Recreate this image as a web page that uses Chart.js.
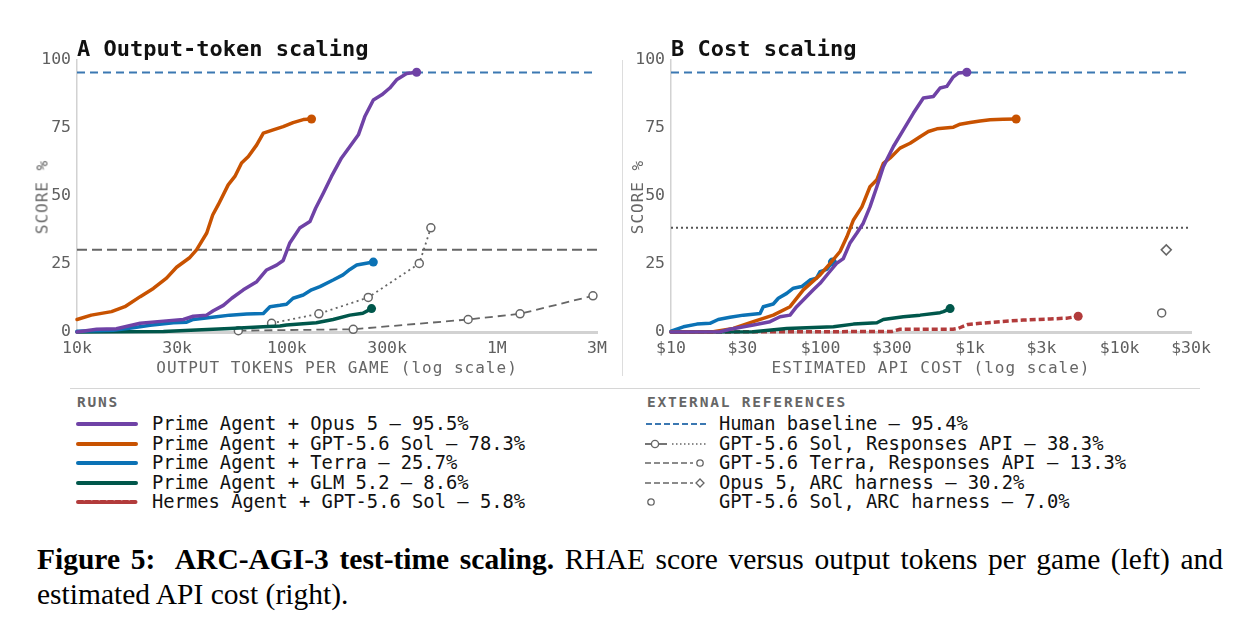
<!DOCTYPE html>
<html>
<head>
<meta charset="utf-8">
<script src="https://cdn.jsdelivr.net/npm/chart.js@4.4.1/dist/chart.umd.min.js"></script>
<style>
  body { margin: 0; background: #fff; width: 1260px; height: 632px; overflow: hidden; position: relative; font-family: "DejaVu Sans Mono", monospace; }
  .abs { position: absolute; white-space: pre; }
  canvas { position: absolute; top: 0; }
  .ptitle { font-weight: bold; font-size: 22px; color: #111; top: 36px; }
  .axt { font-size: 16px; color: #666; letter-spacing: 1px; }
  .hdr { font-size: 14.5px; font-weight: bold; color: #666; letter-spacing: 1.8px; top: 394px; }
  .row { font-size: 18.8px; color: #111; height: 20px; line-height: 20px; }
  .sw { position: absolute; }
  .cap { font-family: "Liberation Serif", "Times New Roman", serif; font-size: 29.5px; line-height: 30px; color: #000;
         left: 37px; width: 1186px; }
</style>
</head>
<body>
<canvas id="tokChart" width="620" height="385" style="left:0"></canvas>
<canvas id="costChart" width="620" height="385" style="left:620px"></canvas>

<div class="abs ptitle" style="left:77px">A Output-token scaling</div>
<div class="abs ptitle" style="left:671px">B Cost scaling</div>
<div class="abs axt" style="left:337px;top:358px;transform:translateX(-50%)">OUTPUT TOKENS PER GAME (log scale)</div>
<div class="abs axt" style="left:931px;top:358px;transform:translateX(-50%)">ESTIMATED API COST (log scale)</div>
<div class="abs axt" style="left:42px;top:197px;transform:translate(-50%,-50%) rotate(-90deg)">SCORE %</div>
<div class="abs axt" style="left:637px;top:197px;transform:translate(-50%,-50%) rotate(-90deg)">SCORE %</div>

<div class="abs" style="left:622px;top:60px;width:1px;height:316px;background:#ddd"></div>
<div class="abs" style="left:70px;top:388px;width:1130px;height:1px;background:#d6d6d6"></div>

<div class="abs hdr" style="left:77px">RUNS</div>
<div class="abs hdr" style="left:647px">EXTERNAL REFERENCES</div>
<div id="legRuns"></div>
<div id="legRefs"></div>

<div class="abs cap" style="top:544px;white-space:normal;text-align:justify;text-align-last:justify"><b>Figure 5:&nbsp; ARC-AGI-3 test-time scaling.</b> RHAE score versus output tokens per game (left) and</div>
<div class="abs cap" style="top:579px">estimated API cost (right).</div>

<script>
// ---- panel A: output tokens per game (thousands) vs score %
const tokTicks = [10, 30, 100, 300, 1000, 3000];
const tokLabels = ["10k", "30k", "100k", "300k", "1M", "3M"];

const opusTok = [10, 12.4, 15.4, 20, 25.8, 32.1, 35.8, 41.4, 44.6, 49.8, 54.6, 62, 71.8, 80, 89.3, 96, 103, 115, 128.7, 137, 149, 163, 182, 199.5, 219, 235, 258, 283, 309, 333, 372, 415];
const opusTokScore = [0, 1, 1.2, 3.2, 4, 4.6, 5.8, 6.2, 7.8, 9.8, 12.4, 15.5, 18.5, 22.8, 24.6, 26.3, 32.6, 38.2, 40.6, 45.5, 51, 57.2, 64, 68.2, 72.5, 79.2, 85.3, 87.2, 89.7, 92.7, 95, 95.5];

const solTok = [10, 11.7, 14.6, 16.9, 20, 23.1, 26.7, 29.8, 34.5, 37.1, 41.5, 44.3, 47.1, 52.5, 56.5, 60.8, 65.5, 71.8, 77.2, 86, 96, 107, 119.6, 131];
const solTokScore = [4.6, 6.2, 7.5, 9.3, 13, 16, 19.8, 23.8, 27.4, 30.2, 36.4, 43, 46.8, 54.1, 57.2, 62.1, 64.5, 68.8, 73.1, 74.3, 75.5, 77, 78.1, 78.3];

const terraTok = [10, 14.9, 18.5, 22.3, 28.8, 33.3, 35.8, 46.2, 53.5, 64.3, 77.2, 83, 92.6, 99.6, 107, 119.6, 131, 143.6, 166, 185, 199.5, 215, 239, 258];
const terraTokScore = [0.3, 0.6, 1.6, 2.5, 3.4, 3.6, 4.6, 5.6, 6.2, 6.6, 6.8, 9.3, 9.8, 10.2, 12.4, 13.6, 15.5, 16.7, 19.1, 21, 23, 24.6, 25.3, 25.7];

const glmTok = [10, 25.8, 37, 53.5, 77, 92.6, 99.6, 138, 166, 199.5, 230, 253];
const glmTokScore = [0, 0.2, 0.7, 1.3, 1.9, 2.2, 2.6, 3.4, 4.6, 6.2, 6.9, 8.6];

const solApiTok = [84.5, 142, 244, 427, 485];
const solApiTokScore = [3.2, 6.7, 12.7, 25.2, 38.3];
const terraApiTok = [58.7, 207, 730, 1290, 2870];
const terraApiTokScore = [0.5, 1.0, 4.6, 6.7, 13.3];

// ---- panel B: estimated API cost ($) vs score %
const costTicks = [10, 30, 100, 300, 1000, 3000, 10000, 30000];
const costLabels = ["$10", "$30", "$100", "$300", "$1k", "$3k", "$10k", "$30k"];

const opusCost = [10, 21.3, 24.8, 35.5, 45.9, 53.6, 62.5, 69.2, 78.7, 89.5, 99.3, 112.8, 128, 142, 157, 175, 193, 214, 238, 263, 307, 358, 418, 487, 569, 630, 698, 773, 835, 951];
const opusCostScore = [0, 0.1, 1, 2.6, 3.8, 5.6, 6.2, 9.3, 12.4, 15.5, 17.9, 21.6, 25.2, 27, 32.6, 36.4, 40, 46, 53.4, 60.8, 68.2, 74.3, 80.5, 86, 86.6, 89.7, 90.3, 93.8, 95.2, 95.5];

const solCost = [10, 19.2, 26.1, 35.5, 48.3, 62.5, 76.7, 99.3, 116, 135, 150, 166, 189, 214, 238, 263, 292, 340, 397, 463, 526, 600, 773, 858, 1000, 1166, 1361, 1660, 2032];
const solCostScore = [0, 0.1, 1.3, 3.8, 6.2, 9.3, 15.5, 21, 25.2, 29.6, 35, 41.2, 46, 53.4, 56, 62, 64, 67.6, 69.4, 71.8, 73.7, 74.7, 75.3, 76.4, 77, 77.6, 78, 78.2, 78.3];

const terraCost = [10, 12.1, 14.9, 18.2, 20.7, 24.8, 30.5, 39.4, 41.4, 48.3, 52.2, 59.4, 65.8, 74.8, 85, 94, 99.3, 110, 120];
const terraCostScore = [0.3, 1.9, 2.9, 3.2, 4.6, 5.4, 6.2, 6.8, 9.3, 10.3, 12.4, 14.2, 16.1, 16.7, 19.1, 19.8, 22.2, 23, 25.7];

const glmCost = [10, 35.5, 59.4, 122, 166, 238, 263, 358, 463, 630, 663, 735];
const glmCostScore = [0, 0.1, 1.3, 1.9, 2.9, 3.4, 4.6, 5.6, 6.2, 7.1, 7.5, 8.6];

const hermesCost = [10, 100, 300, 340, 769, 831, 970, 1166, 1585, 2262, 3430, 4456, 5280];
const hermesCostScore = [0, 0.1, 0.2, 1.0, 1.0, 1.3, 2.8, 3.2, 3.8, 4.4, 4.8, 5.1, 5.8];

const arcOpusCost = [20500];
const arcOpusScore = [30.2];
const arcSolCost = [19100];
const arcSolScore = [7.0];

// reference levels
const humanBaseline = 95.4;
const solApiLevel = 38.3;
const opusArcLevel = 30.2;

const C = {
  opus: "#6f42a6", sol: "#c85200", terra: "#0b72b5", glm: "#00574b",
  hermes: "#b23b3b", human: "#3b78b2", ref: "#666666"
};

const pts = (xs, ys) => xs.map((x, i) => ({ x, y: ys[i] }));

function run(xs, ys, color, dash) {
  return {
    data: pts(xs, ys), showLine: true, borderColor: color, backgroundColor: color,
    borderWidth: 3.5, borderDash: dash || [], borderJoinStyle: "round", borderCapStyle: dash ? "butt" : "round",
    pointRadius: c => (c.dataIndex === xs.length - 1 ? 4.5 : 0), pointBorderWidth: 0, clip: false
  };
}
function hline(x0, x1, v, color, dash) {
  return { data: pts([x0, x1], [v, v]), showLine: true, borderColor: color, borderWidth: 2, borderDash: dash, pointRadius: 0, clip: false };
}
function marked(xs, ys, dash, style) {
  return {
    data: pts(xs, ys), showLine: dash !== null, borderColor: C.ref, borderWidth: 1.8, borderDash: dash || [],
    pointRadius: style === "rectRot" ? 5 : 4, pointStyle: style || "circle",
    pointBackgroundColor: "#fff", pointBorderColor: C.ref, pointBorderWidth: 1.5, clip: false
  };
}

function makeChart(id, datasets, xMin, xMax, ticks, labels, yWidth, padRight) {
  const tickFont = { family: "DejaVu Sans Mono", size: 16.5 };
  return new Chart(document.getElementById(id), {
    type: "scatter",
    data: { datasets },
    options: {
      responsive: false, animation: false, events: [],
      layout: { padding: { top: 60, right: padRight, left: 0, bottom: 0 } },
      plugins: { legend: { display: false }, tooltip: { enabled: false } },
      scales: {
        x: {
          type: "logarithmic", min: xMin, max: xMax,
          grid: { display: false, drawTicks: false },
          border: { display: true, color: "#d2d2d2", width: 3 },
          afterBuildTicks: s => { s.ticks = ticks.map(v => ({ value: v })); },
          afterFit: s => { s.height = 53; s.paddingLeft = 0; s.paddingRight = 0; },
          ticks: {
            autoSkip: false, maxRotation: 0, padding: 7, color: "#5f5f5f", font: tickFont,
            callback: v => labels[ticks.indexOf(v)] ?? ""
          }
        },
        y: {
          min: 0, max: 100,
          grid: { display: false, drawTicks: false },
          border: { display: true, color: "#d2d2d2", width: 1.5 },
          afterFit: s => { s.width = yWidth; },
          ticks: { stepSize: 25, padding: 6, color: "#5f5f5f", font: tickFont }
        }
      }
    }
  });
}

makeChart("tokChart", [
  run(opusTok, opusTokScore, C.opus),
  run(solTok, solTokScore, C.sol),
  run(terraTok, terraTokScore, C.terra),
  run(glmTok, glmTokScore, C.glm),
  marked(solApiTok, solApiTokScore, [2, 3.5]),
  marked(terraApiTok, terraApiTokScore, [8, 5]),
  hline(10, 3000, humanBaseline, C.human, [8, 5]),
  hline(10, 3000, opusArcLevel, C.ref, [10, 5])
], 10, 3000, tokTicks, tokLabels, 77, 23);

makeChart("costChart", [
  run(opusCost, opusCostScore, C.opus),
  run(solCost, solCostScore, C.sol),
  run(terraCost, terraCostScore, C.terra),
  run(glmCost, glmCostScore, C.glm),
  run(hermesCost, hermesCostScore, C.hermes, [6, 3]),
  marked(arcOpusCost, arcOpusScore, null, "rectRot"),
  marked(arcSolCost, arcSolScore, null),
  hline(10, 30000, humanBaseline, C.human, [8, 5]),
  hline(10, 28800, solApiLevel, "#555", [2, 3])
], 10, 30000, costTicks, costLabels, 51, 49);

// ---- legends
const runNames = [
  "Prime Agent + Opus 5 \u2013 95.5%",
  "Prime Agent + GPT-5.6 Sol \u2013 78.3%",
  "Prime Agent + Terra \u2013 25.7%",
  "Prime Agent + GLM 5.2 \u2013 8.6%",
  "Hermes Agent + GPT-5.6 Sol \u2013 5.8%"
];
const runColors = [C.opus, C.sol, C.terra, C.glm, C.hermes];
const refNames = [
  "Human baseline \u2013 95.4%",
  "GPT-5.6 Sol, Responses API \u2013 38.3%",
  "GPT-5.6 Terra, Responses API \u2013 13.3%",
  "Opus 5, ARC harness \u2013 30.2%",
  "GPT-5.6 Sol, ARC harness \u2013 7.0%"
];
const refSwatches = [
  `<line x1="1" y1="10" x2="61" y2="10" stroke="${C.human}" stroke-width="1.8" stroke-dasharray="6,3"/>`,
  `<line x1="0" y1="10" x2="22" y2="10" stroke="${C.ref}" stroke-width="1.8"/><circle cx="10" cy="10" r="3.6" fill="#fff" stroke="${C.ref}" stroke-width="1.4"/><line x1="27" y1="10" x2="62" y2="10" stroke="${C.ref}" stroke-width="1.6" stroke-dasharray="1.5,2.5"/>`,
  `<line x1="0" y1="10" x2="48" y2="10" stroke="${C.ref}" stroke-width="1.6" stroke-dasharray="6,3"/><circle cx="55" cy="10" r="3.2" fill="#fff" stroke="${C.ref}" stroke-width="1.3"/>`,
  `<line x1="0" y1="10" x2="48" y2="10" stroke="${C.ref}" stroke-width="1.6" stroke-dasharray="6,3"/><path d="M55 6 L59 10 L55 14 L51 10 Z" fill="#fff" stroke="${C.ref}" stroke-width="1.3"/>`,
  `<circle cx="6" cy="10" r="3.2" fill="#fff" stroke="${C.ref}" stroke-width="1.3"/>`
];

function addRows(el, names, swatches, swX, textX) {
  names.forEach((name, i) => {
    const top = 414 + i * 19.5;
    el.insertAdjacentHTML("beforeend",
      `<svg class="sw" style="left:${swX}px;top:${top}px" width="64" height="20">${swatches[i]}</svg>` +
      `<div class="abs row" style="left:${textX}px;top:${top}px">${name}</div>`);
  });
}
addRows(document.getElementById("legRuns"), runNames,
  runColors.map((c, i) => `<line x1="2" y1="10" x2="60" y2="10" stroke="${c}" stroke-width="4" stroke-linecap="round"${i === 4 ? ' stroke-dasharray="5,2.5" stroke-linecap="butt"' : ""}/>`),
  76, 152);
addRows(document.getElementById("legRefs"), refNames, refSwatches, 645, 719);
</script>
</body>
</html>
